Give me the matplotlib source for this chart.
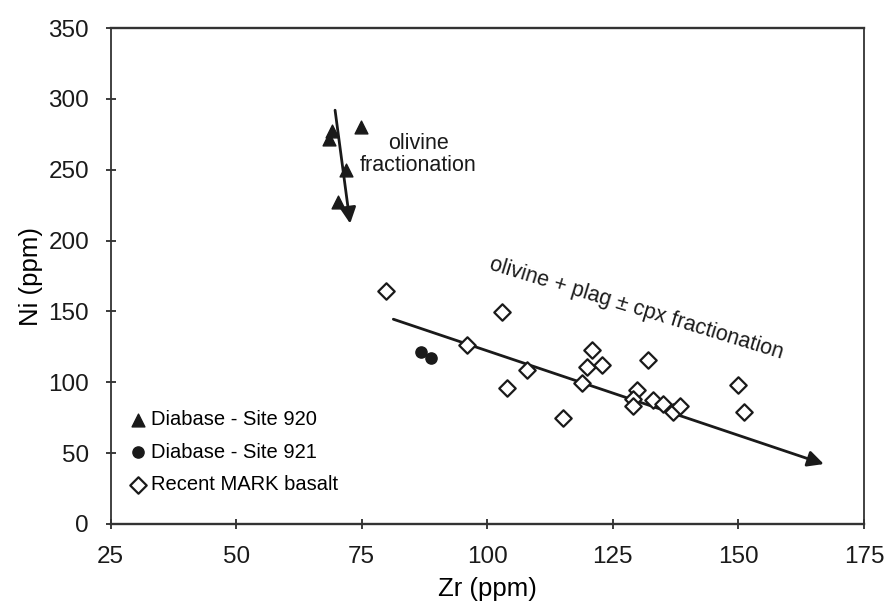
#!/usr/bin/env python3
"""Ni vs Zr for diabase (Sites 920/921) and recent MARK basalt, with fractionation trends."""
import matplotlib

matplotlib.use("Agg")
import matplotlib.pyplot as plt  # noqa: E402

plt.rcParams["font.family"] = ["Liberation Sans", "DejaVu Sans"]

# Diabase - Site 920
zr_920 = [68.5, 69.1, 74.8, 71.9, 70.2]
ni_920 = [272, 277, 280, 250, 227]
# Diabase - Site 921
zr_921 = [86.8, 88.8]
ni_921 = [121.5, 117]
# Recent MARK basalt
zr_mark = [79.9, 102.9, 96.0, 107.9, 103.9, 115.1, 120.9, 119.9, 122.8, 118.9,
           131.9, 129.9, 129.1, 129.1, 133.0, 135.0, 137.0, 138.3, 149.9, 151.2]
ni_mark = [164.5, 149.5, 126.5, 109, 96, 74.5, 123, 111, 112, 99.5,
           116, 94.5, 88, 83.5, 87.5, 84.5, 79, 83.5, 98, 79]

# trend arrows (start, end)
ol_arrow = ((69.7, 292), (72.7, 212))
plag_arrow = ((81.3, 144.5), (167.0, 42.3))


def main():
    fig = plt.figure(figsize=(8.9, 6.13), dpi=100)
    ax = fig.add_axes([0.1242, 0.1452, 0.8466, 0.8091])

    ax.scatter(zr_920, ni_920, marker="^", s=85, color="#1a1a1a", zorder=3,
               label="Diabase - Site 920")
    ax.scatter(zr_921, ni_921, marker="o", s=65, color="#1a1a1a", zorder=3,
               label="Diabase - Site 921")
    ax.scatter(zr_mark, ni_mark, marker="D", s=70, facecolor="white",
               edgecolor="#1a1a1a", linewidth=1.6, zorder=3,
               label="Recent MARK basalt")

    for (x0, y0), (x1, y1) in (ol_arrow, plag_arrow):
        ax.annotate("", xy=(x1, y1), xytext=(x0, y0), zorder=2,
                    arrowprops=dict(arrowstyle="-|>", color="#1a1a1a", lw=2,
                                    mutation_scale=24, shrinkA=0, shrinkB=0))

    ax.text(86.3, 261, "olivine\nfractionation", ha="center", va="center",
            fontsize=15.5, linespacing=1.05, color="#1a1a1a")
    ax.text(129.6, 152, "olivine + plag \u00b1 cpx fractionation", ha="center",
            va="center", rotation=-17, rotation_mode="anchor", fontsize=15.5,
            color="#1a1a1a")

    ax.set_xlim(25, 175)
    ax.set_ylim(0, 350)
    ax.set_xticks([25, 50, 75, 100, 125, 150, 175])
    ax.set_yticks(range(0, 351, 50))
    ax.tick_params(labelsize=17.5, direction="inout", length=7, width=1.2,
                   colors="#1a1a1a", pad=12)
    for s in ax.spines.values():
        s.set_linewidth(1.3)
        s.set_color("#333333")
    ax.spines["top"].set_linewidth(1.7)
    ax.spines["bottom"].set_linewidth(1.7)
    ax.set_xlabel("Zr (ppm)", fontsize=18.5, labelpad=7)
    ax.set_ylabel("Ni (ppm)", fontsize=18.5, labelpad=4)

    ax.legend(loc="upper left", bbox_to_anchor=(0.012, 0.246), frameon=False,
              fontsize=14.5, handletextpad=0.15, labelspacing=0.67,
              handlelength=1.0, borderaxespad=0.0, borderpad=0.4)

    fig.savefig("out.png", dpi=100)
    plt.close(fig)


if __name__ == "__main__":
    main()
